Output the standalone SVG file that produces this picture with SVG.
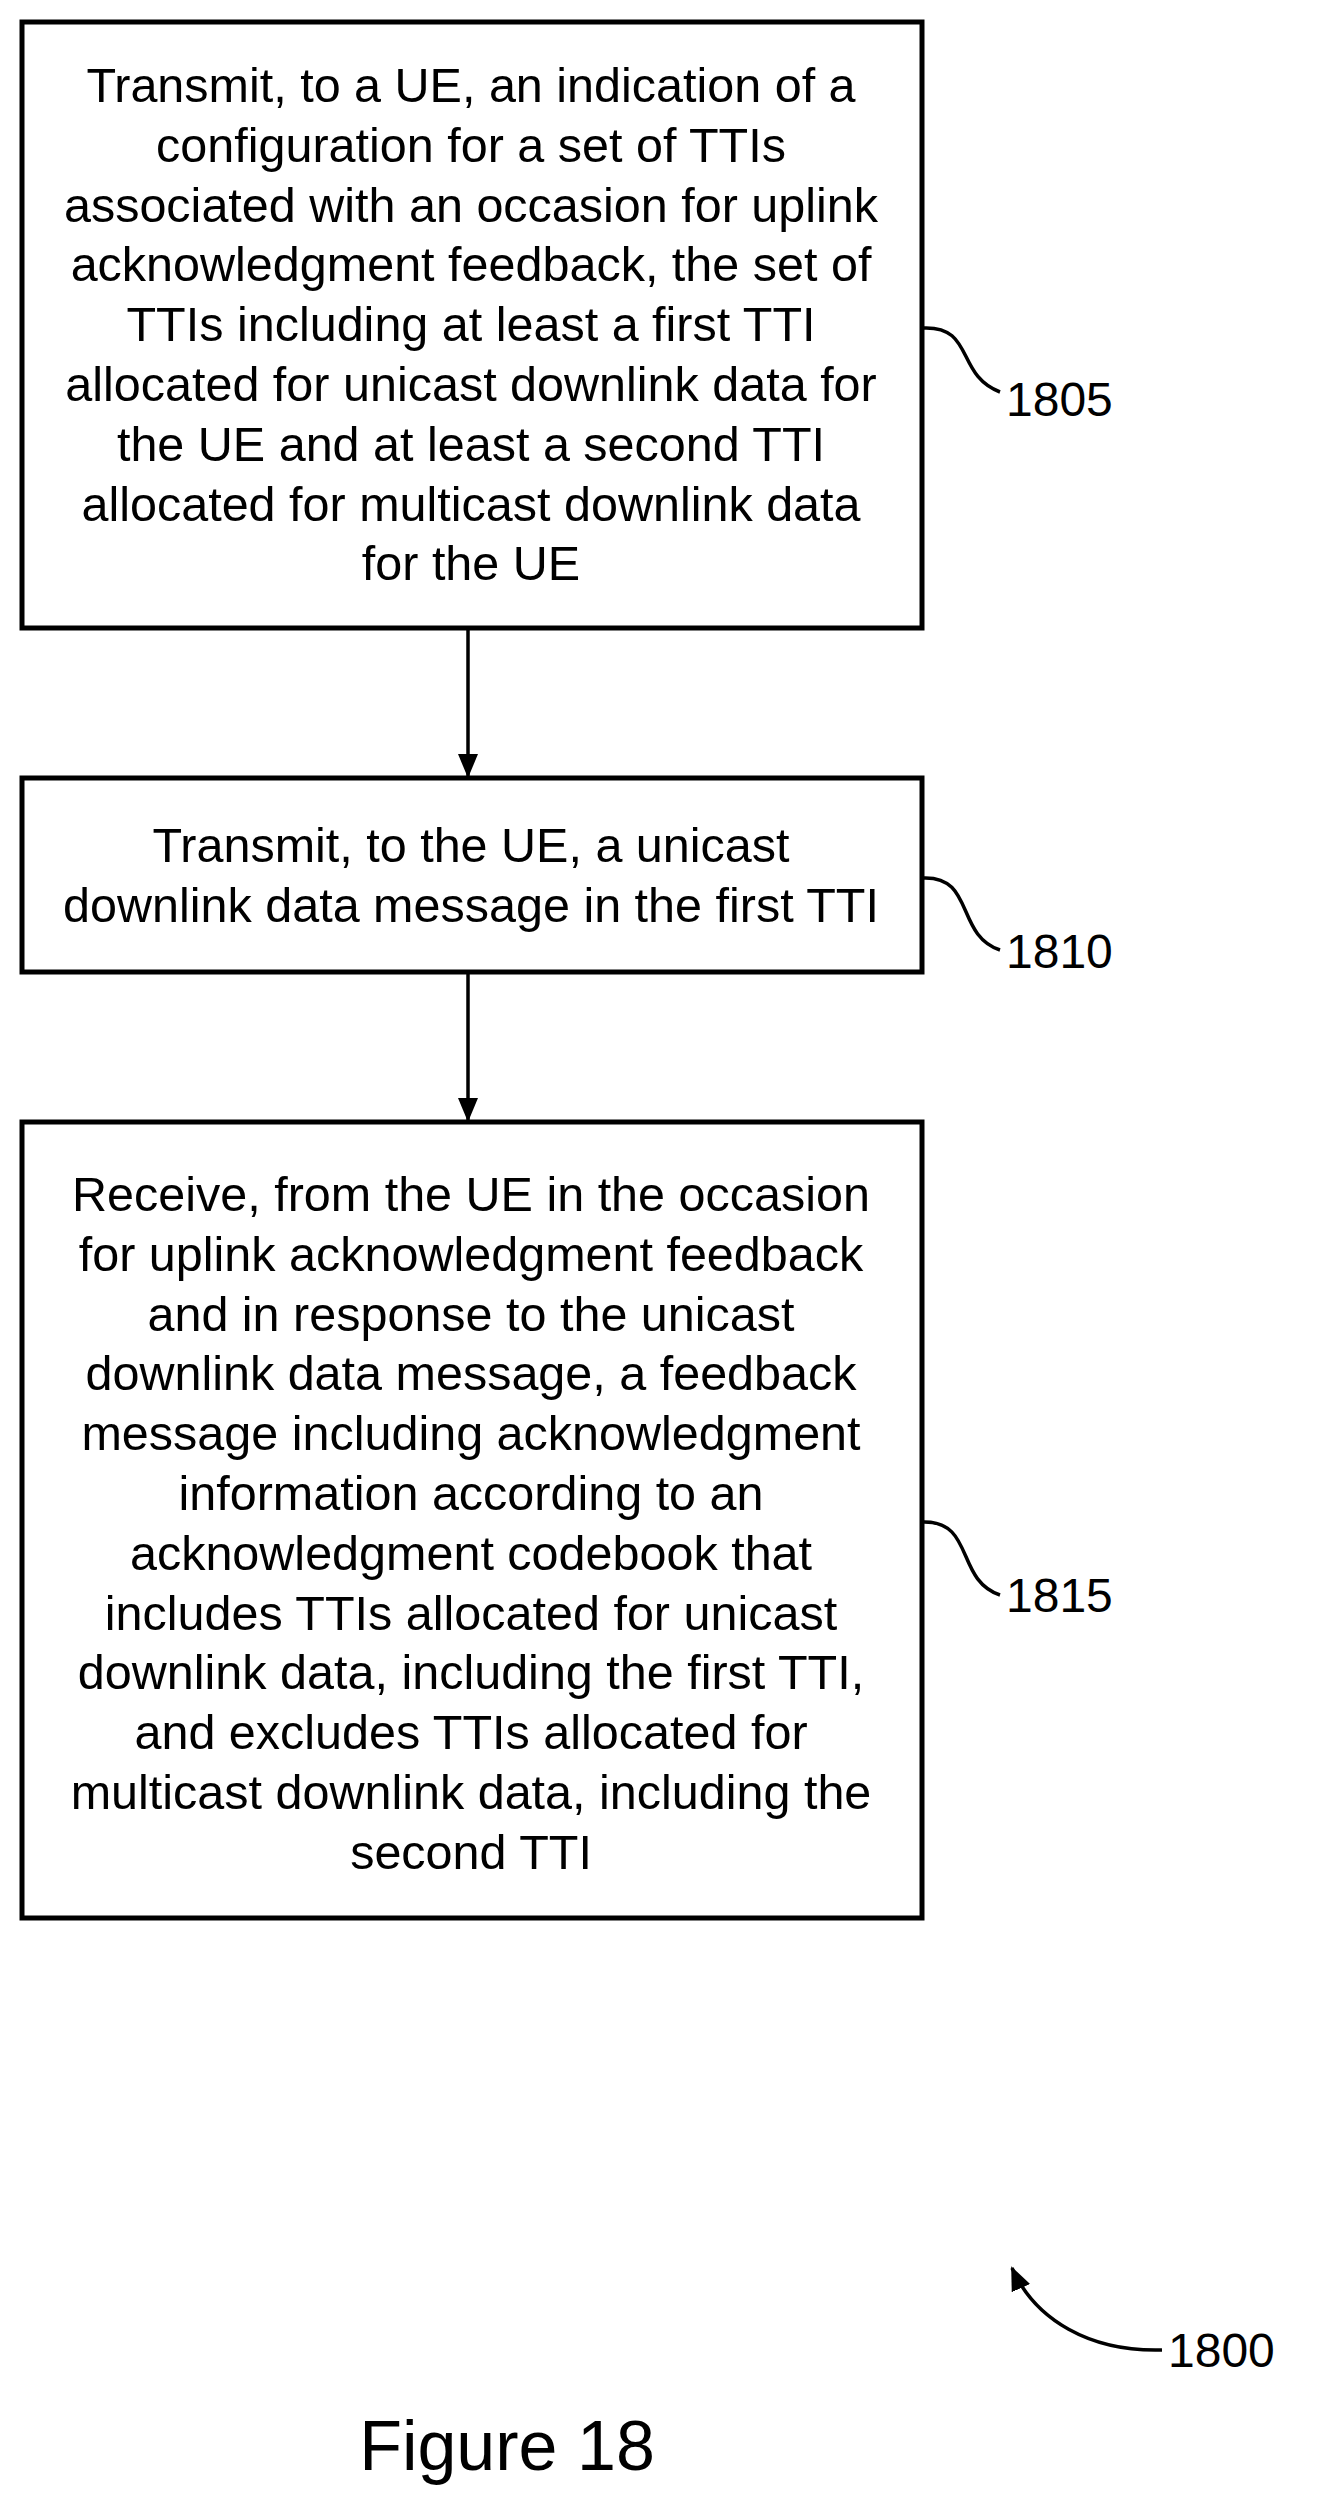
<svg xmlns="http://www.w3.org/2000/svg" width="1320" height="2517" viewBox="0 0 1320 2517">
<style>
.b{fill:#fff;stroke:#000;stroke-width:5}
.t{font-family:"Liberation Sans",Arial,sans-serif;font-size:48.5px;text-anchor:middle;fill:#000}
.l{font-family:"Liberation Sans",Arial,sans-serif;font-size:48px;fill:#000}
.c{fill:none;stroke:#000;stroke-width:3.5}
</style>
<defs>
<marker id="h" markerWidth="24" markerHeight="24" refX="22" refY="12" orient="auto" markerUnits="userSpaceOnUse" viewBox="0 0 24 24"><path d="M0,2L24,12L0,22z"/></marker></defs>
<rect width="1320" height="2517" fill="#fff"/>
<g id="n1805"><rect class="b" x="22" y="22" width="900" height="606"/>
<text class="t" y="102"><tspan x="471">Transmit, to a UE, an indication of a</tspan><tspan x="471" dy="59.8">configuration for a set of TTIs</tspan><tspan x="471" dy="59.8">associated with an occasion for uplink</tspan><tspan x="471" dy="59.8">acknowledgment feedback, the set of</tspan><tspan x="471" dy="59.8">TTIs including at least a first TTI</tspan><tspan x="471" dy="59.8">allocated for unicast downlink data for</tspan><tspan x="471" dy="59.8">the UE and at least a second TTI</tspan><tspan x="471" dy="59.8">allocated for multicast downlink data</tspan><tspan x="471" dy="59.8">for the UE</tspan></text>
<text class="l" x="1006" y="416">1805</text></g>
<g id="n1810"><rect class="b" x="22" y="778" width="900" height="194"/>
<text class="t" y="862"><tspan x="471">Transmit, to the UE, a unicast</tspan><tspan x="471" dy="59.8">downlink data message in the first TTI</tspan></text>
<text class="l" x="1006" y="968">1810</text></g>
<g id="n1815"><rect class="b" x="22" y="1122" width="900" height="796"/>
<text class="t" y="1211"><tspan x="471">Receive, from the UE in the occasion</tspan><tspan x="471" dy="59.8">for uplink acknowledgment feedback</tspan><tspan x="471" dy="59.8">and in response to the unicast</tspan><tspan x="471" dy="59.8">downlink data message, a feedback</tspan><tspan x="471" dy="59.8">message including acknowledgment</tspan><tspan x="471" dy="59.8">information according to an</tspan><tspan x="471" dy="59.8">acknowledgment codebook that</tspan><tspan x="471" dy="59.8">includes TTIs allocated for unicast</tspan><tspan x="471" dy="59.8">downlink data, including the first TTI,</tspan><tspan x="471" dy="59.8">and excludes TTIs allocated for</tspan><tspan x="471" dy="59.8">multicast downlink data, including the</tspan><tspan x="471" dy="59.8">second TTI</tspan></text>
<text class="l" x="1006" y="1612">1815</text></g>
<g id="n1800"><text class="l" x="1168" y="2367">1800</text>
<text class="l" x="507" y="2470" style="font-size:70px;text-anchor:middle">Figure 18</text></g>
<g id="connectors">
<line class="c" x1="468" y1="628" x2="468" y2="776" marker-end="url(#h)"/>
<line class="c" x1="468" y1="972" x2="468" y2="1120" marker-end="url(#h)"/>
<path class="c" d="M922,328 C975,325 955,375 1000,392"/>
<path class="c" d="M922,878 C975,875 955,935 1000,950"/>
<path class="c" d="M922,1522 C975,1520 955,1580 1000,1595"/>
<path class="c" d="M1162,2350 C1090,2352 1035,2320 1012,2268" marker-end="url(#h)"/>
</g>
</svg>
